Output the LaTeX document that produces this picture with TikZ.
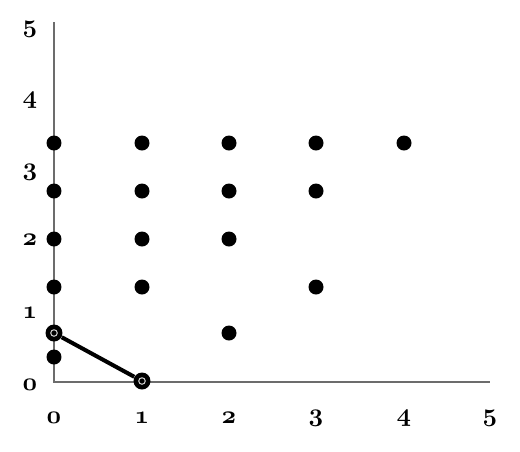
\documentclass[tikz,border=0pt]{standalone}
\usepackage{tikz}
\newcommand{\boldoldnum}[1]{{\fontencoding{OML}\fontfamily{cmm}\fontseries{b}\fontshape{it}\selectfont #1}}
\begin{document}
\begin{tikzpicture}[
  x=0.02cm, y=-0.02cm,
  dot/.style={circle, fill=black, inner sep=0pt, minimum size=0.3cm},
  ringdot/.style={dot, minimum size=0.34cm,
    path picture={\draw[gray!40, line width=0.6pt] (path picture bounding box.center) circle (0.065cm);}},
  axis/.style={draw=gray!85!black, line width=0.7pt},
  tick/.style={font=\Large, inner sep=1pt}
]
\useasboundingbox (0,0) rectangle (520,451);
\coordinate (origin) at (54,382);
\coordinate (xend) at (490,382);
\coordinate (yend) at (54,22);
\draw[axis] (yend) -- (origin) -- (xend);

\foreach \v/\x in {0/54,1/142,2/229,3/316,4/404,5/490}
  \node[tick] (xlab\v) at (\x,418) {\boldoldnum{\v}};
\foreach \v/\y in {0/385,1/313,2/240,3/172,4/100,5/29}
  \node[tick] (ylab\v) at (30,\y) {\boldoldnum{\v}};

\foreach \x/\y [count=\i] in {54/143,142/143,229/143,316/143,404/143,
    54/191,142/191,229/191,316/191,
    54/239,142/239,229/239,
    54/287,142/287,316/287,
    229/333,54/357}
  \node[dot] (pt\i) at (\x,\y) {};

\node[ringdot] (start) at (54,333) {};
\node[ringdot] (finish) at (142,381) {};
\draw[line width=2.3pt] (start) -- (finish);
\end{tikzpicture}
\end{document}
